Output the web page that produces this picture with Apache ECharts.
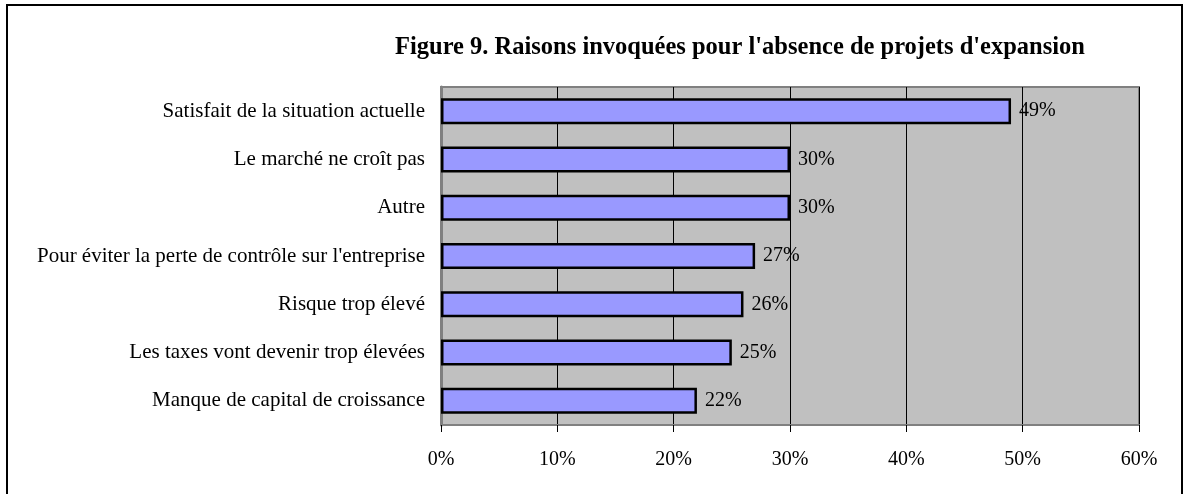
<!DOCTYPE html>
<html lang="fr">
<head>
    <meta charset="UTF-8">
    <title>Figure 9</title>
    <script src="https://cdn.jsdelivr.net/npm/echarts@6/dist/echarts.min.js"></script>
    <style>
        html, body { margin: 0; padding: 0; background: #fff; }
        #chart { width: 1185px; height: 494px; }
    </style>
</head>
<body>
<div id="chart"></div>
<script>
    var categories = [
        'Satisfait de la situation actuelle',
        'Le marché ne croît pas',
        'Autre',
        "Pour éviter la perte de contrôle sur l'entreprise",
        'Risque trop élevé',
        'Les taxes vont devenir trop élevées',
        'Manque de capital de croissance'
    ];
    var values = [49, 30, 30, 27, 26, 25, 22];
    var tickMax = 60;
    var tickStep = 10;

    var serif = '"Liberation Serif", "Times New Roman", serif';

    var myChart = echarts.init(document.getElementById('chart'));

    var option = {
        backgroundColor: '#fff',
        animation: false,
        title: {
            text: "Figure 9. Raisons invoquées pour l'absence de projets d'expansion",
            left: 390,
            top: 30,
            textStyle: {
                fontFamily: serif,
                fontSize: 24.5,
                fontWeight: 'bold',
                color: '#000'
            }
        },
        graphic: [{
            type: 'rect',
            shape: { x: 7, y: 5, width: 1175, height: 500 },
            style: { fill: 'none', stroke: '#000', lineWidth: 2 },
            silent: true
        }],
        grid: {
            left: 441,
            right: 46,
            top: 87,
            bottom: 69,
            show: true,
            backgroundColor: '#C0C0C0',
            borderColor: '#808080',
            borderWidth: 2
        },
        xAxis: {
            type: 'value',
            min: 0,
            max: tickMax,
            interval: tickStep,
            axisLine: { show: true, lineStyle: { color: '#808080', width: 2 } },
            axisTick: { show: true, length: 7, lineStyle: { color: '#000', width: 1 } },
            axisLabel: {
                formatter: '{value}%',
                margin: 25,
                fontFamily: serif,
                fontSize: 20,
                color: '#000'
            },
            splitLine: { show: true, lineStyle: { color: '#000', width: 1 } }
        },
        yAxis: {
            type: 'category',
            data: categories,
            inverse: true,
            axisLine: { show: true, lineStyle: { color: '#808080', width: 3 } },
            axisTick: { show: false },
            axisLabel: {
                margin: 16,
                fontFamily: serif,
                fontSize: 21,
                color: '#000'
            }
        },
        series: [{
            type: 'bar',
            data: values,
            barWidth: 26,
            itemStyle: {
                color: '#9999FF',
                borderColor: '#000',
                borderWidth: 2.5
            },
            label: {
                show: true,
                position: 'right',
                distance: 8,
                formatter: '{c}%',
                fontFamily: serif,
                fontSize: 20,
                color: '#000'
            }
        }]
    };

    myChart.setOption(option);
</script>
</body>
</html>
